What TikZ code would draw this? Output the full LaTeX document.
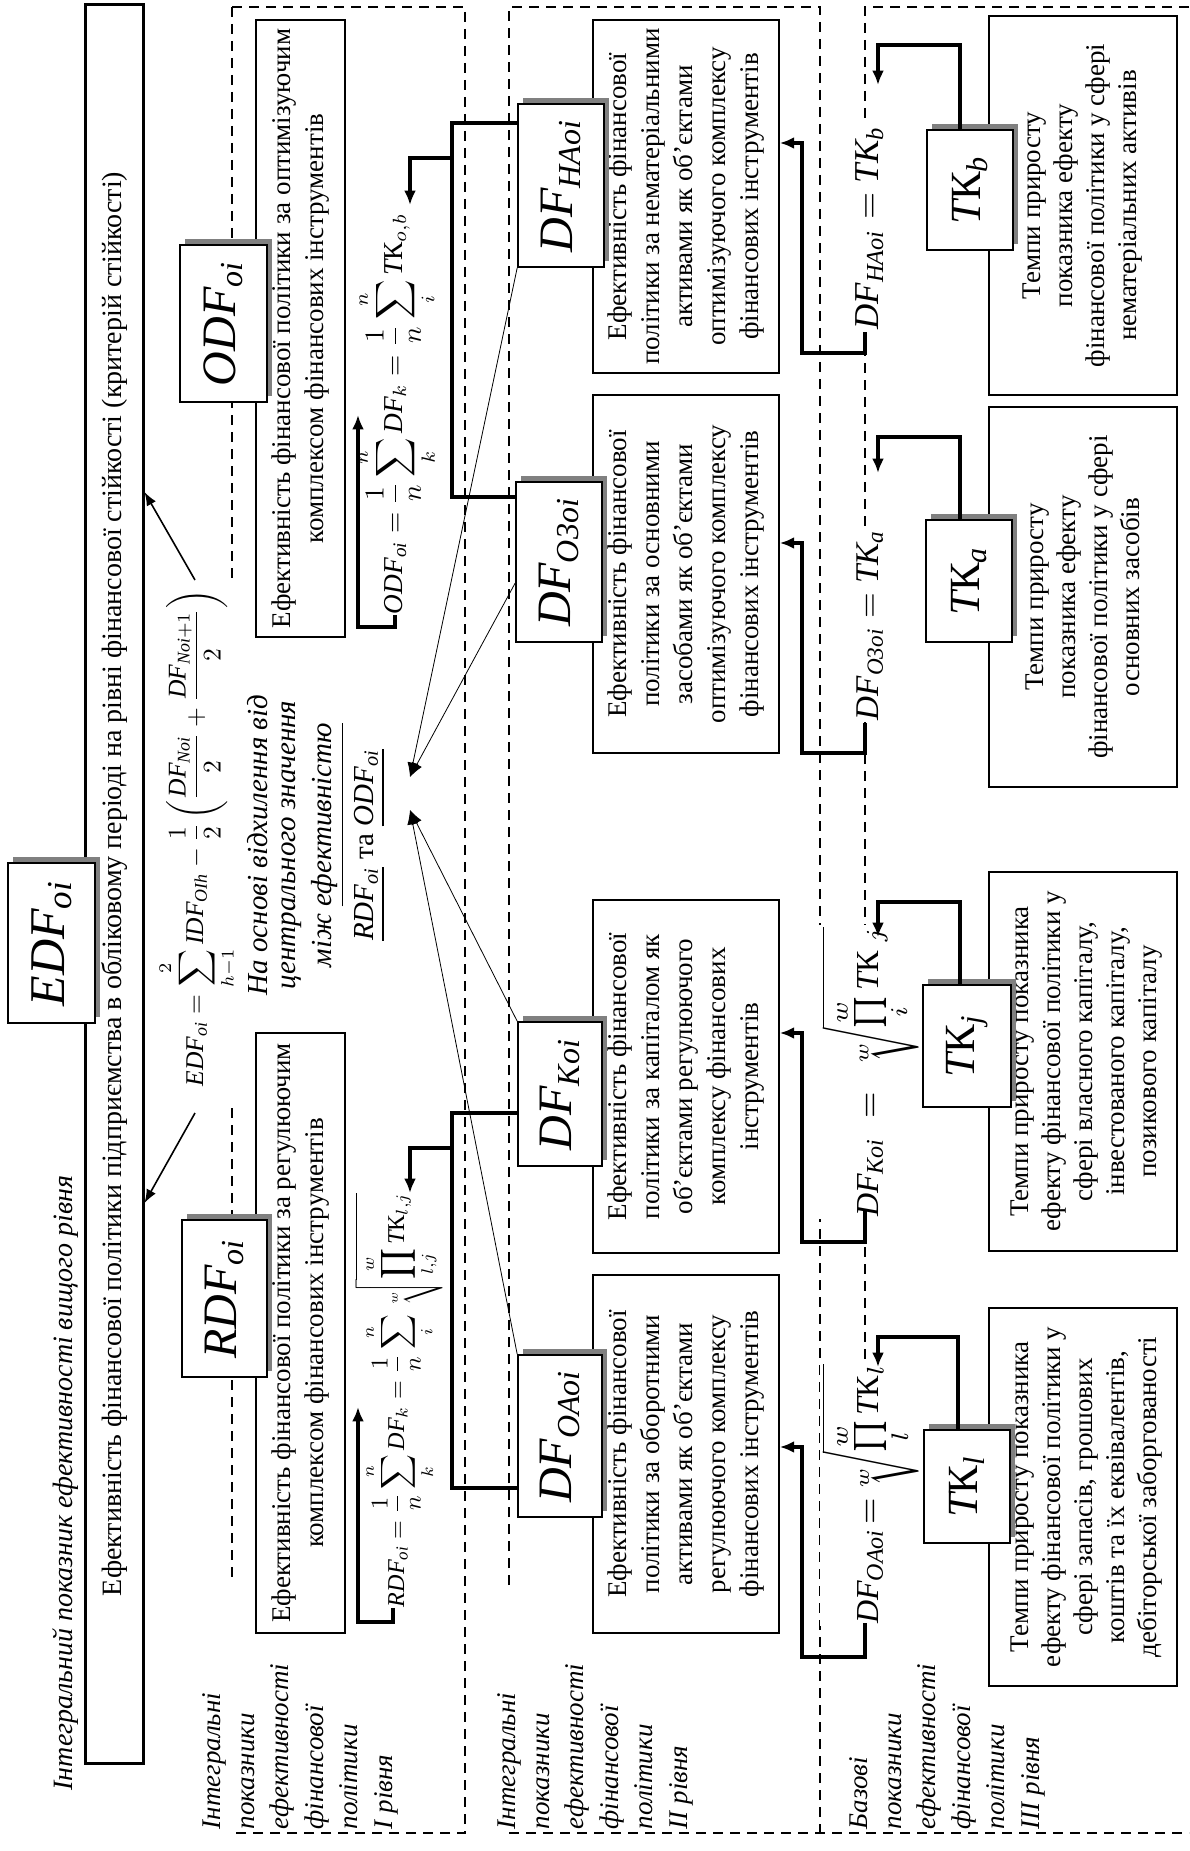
\documentclass[tikz,border=0pt]{standalone}
\usepackage{amsmath}
\usepackage{fontspec}
\setmainfont{Liberation Serif}
\usetikzlibrary{arrows.meta}
\definecolor{shd}{RGB}{128,128,128}
\newcommand\bt{\fontsize{6.75}{8.25}\selectfont}
\newcommand\btt{\fontsize{6.75}{8}\selectfont}
\newcommand\lvlfont{\fontsize{6.75}{8.6}\selectfont\itshape}
\newcommand\LBox[7]{%
  \fill[shd] ({#2+5},{#3-6}) rectangle ({#4+5},{#5-6});
  \node[lbox, minimum width={(#5-#3)*0.25pt}, minimum height={(#4-#2)*0.25pt}, font={\fontsize{#6}{#6}\selectfont}] (#1) at ({(#2+#4)/2},{(#3+#5)/2}) {#7};}
% name, x1, y1, x2, y2, text shift (px, to the right), text
\newcommand\TBox[7]{%
  \node[tbox, minimum width={(#5-#3)*0.25pt}, minimum height={(#4-#2)*0.25pt}] (#1) at ({(#2+#4)/2},{(#3+#5)/2}) {};
  \node[rotate=90, align=center, inner sep=0pt, font=\bt] (#1t) at ({(#2+#4)/2+#6},{(#3+#5)/2}) {#7};}
\newcommand\TBoxT[7]{%
  \node[tbox, minimum width={(#5-#3)*0.25pt}, minimum height={(#4-#2)*0.25pt}] (#1) at ({(#2+#4)/2},{(#3+#5)/2}) {};
  \node[rotate=90, align=center, inner sep=0pt, font=\btt] (#1t) at ({(#2+#4)/2+#6},{(#3+#5)/2}) {#7};}
\begin{document}
\begin{tikzpicture}[x=0.25pt,y=-0.25pt,
  dsh/.style={line width=0.33pt, dash pattern=on 2.5pt off 1.75pt},
  thk/.style={line width=0.8pt},
  thkarr/.style={thk, -{Latex[length=3.6pt,width=3pt]}},
  medarr/.style={line width=0.4pt, -{Latex[length=3.4pt,width=2.6pt]}},
  thnarr/.style={line width=0.2pt, -{Latex[length=3.6pt,width=2.8pt]}},
  tbox/.style={draw, line width=0.4pt, fill=white, rotate=90, inner sep=0pt},
  lbox/.style={draw, line width=0.4pt, fill=white, rotate=90, inner sep=0pt},
  lvl/.style={rotate=90, align=left, inner sep=0pt, font=\lvlfont, anchor=west},
  note/.style={rotate=90, inner sep=0pt, font={\fontsize{7.25}{9}\selectfont\itshape}},
  fml/.style={rotate=90, inner sep=0pt, anchor=base},
  fmlw/.style={fml, fill=white, inner sep=0.5pt},
]
\useasboundingbox (0,0) rectangle (1189,1851);

% dashed level frames
\draw[dsh] (232,7) -- (465,7) -- (465,1833) -- (232,1833);
\draw[dsh] (232,7) -- (232,578);
\draw[dsh] (232,1108) -- (232,1583);
\draw[dsh] (509,1585) -- (509,7) -- (820,7) -- (820,1833);
\draw[dsh] (509,1833) -- (1189,1833);
\draw[dsh] (1189,7) -- (865,7) -- (865,1600);

% level III formulas (drawn early, white background hides the dashed frames)
\node[fmlw] (fha) at (878,228) {\resizebox{50.75pt}{!}{$\mathit{DF}_{\mathit{HAoi}}=\textit{ТК}_{\mathit{b}}$}};
\node[fmlw] (fo3) at (878,625) {\resizebox{47.5pt}{!}{$\mathit{DF}_{\mathit{O3oi}}=\textit{ТК}_{\mathit{a}}$}};
\node[fmlw, font={\fontsize{8}{10}\selectfont}] (fk) at (878,1072) {$\mathit{DF}_{\mathit{Koi}}\;=\;\sqrt[w]{\prod\limits_{i}^{w}\textit{Т}\text{К}_{\;j}}$};
\node[fmlw, font={\fontsize{8}{10}\selectfont}] (foa) at (878,1494) {$\mathit{DF}_{\mathit{OAoi}}\mkern-3mu=\mkern-5mu\sqrt[w]{\prod\limits_{l}^{w}\textit{Т}\text{К}_{l}}$};

% title and main box
\node[rotate=90, anchor=base, inner sep=0pt, font={\fontsize{7}{8}\selectfont\itshape}] (title) at (72,1483) {Інтегральний показник ефективності вищого рівня};
\node[draw, line width=0.75pt, rotate=90, minimum width=439.5pt, minimum height=14.5pt, inner sep=0pt, font={\fontsize{7}{8}\selectfont}] (mainbox) at (114,884) {Ефективність фінансової політики підприємства в обліковому періоді на рівні фінансової стійкості (критерій стійкості)};
\LBox{edf}{8}{863}{95}{1023}{12.5}{$\mathit{EDF}_{\mathit{oi}}$}

% text boxes
\TBox{odft}{256}{20}{345}{637}{0}{Ефективність фінансової політики за оптимізуючим\\комплексом фінансових інструментів}
\TBox{rdft}{256}{1033}{345}{1633}{0}{Ефективність фінансової політики за регулюючим\\комплексом фінансових інструментів}
\TBox{hat}{593}{20}{779}{373}{0}{Ефективність фінансової\\політики за нематеріальними\\активами як об’єктами\\оптимізуючого комплексу\\фінансових інструментів}
\TBox{o3t}{593}{395}{779}{753}{0}{Ефективність фінансової\\політики за основними\\засобами як об’єктами\\оптимізуючого комплексу\\фінансових інструментів}
\TBox{kt}{593}{900}{779}{1253}{0}{Ефективність фінансової\\політики за капіталом як\\об’єктами регулюючого\\комплексу фінансових\\інструментів}
\TBox{oat}{593}{1275}{779}{1633}{0}{Ефективність фінансової\\політики за оборотними\\активами як об’єктами\\регулюючого комплексу\\фінансових інструментів}
\TBoxT{tbt}{989}{16}{1177}{395}{0}{Темпи приросту\\показника ефекту\\фінансової політики у сфері\\нематеріальних активів}
\TBoxT{tat}{989}{407}{1177}{787}{0}{Темпи приросту\\показника ефекту\\фінансової політики у сфері\\основних засобів}
\TBoxT{tjt}{989}{872}{1177}{1251}{4}{Темпи приросту показника\\ефекту фінансової політики у\\сфері власного капіталу,\\інвестованого капіталу,\\позикового капіталу}
\TBoxT{tlt}{989}{1308}{1177}{1686}{4}{Темпи приросту показника\\ефекту фінансової політики у\\сфері запасів, грошових\\коштів та їх еквівалентів,\\дебіторської заборгованості}

% label boxes
\LBox{odf}{180}{245}{267}{402}{12}{$\mathit{ODF}_{\mathit{oi}}$}
\LBox{rdf}{182}{1220}{267}{1377}{12}{$\mathit{RDF}_{\mathit{oi}}$}
\LBox{dfha}{518}{104}{604}{267}{12}{$\mathit{DF}_{\mathit{HAoi}}$}
\LBox{dfo3}{516}{482}{602}{642}{12}{$\mathit{DF}_{\mathit{O3oi}}$}
\LBox{dfk}{518}{1022}{602}{1166}{12}{$\mathit{DF}_{\mathit{Koi}}$}
\LBox{dfoa}{518}{1355}{602}{1517}{12}{$\mathit{DF}_{\mathit{OAoi}}$}
\LBox{tkb}{927}{130}{1013}{250}{10.75}{$\textit{Т}\text{К}_{\mathit{b}}$}
\LBox{tka}{926}{520}{1012}{642}{10.75}{$\textit{Т}\text{К}_{\mathit{a}}$}
\LBox{tkj}{923}{985}{1011}{1107}{10.75}{$\textit{Т}\text{К}_{\mathit{j}}$}
\LBox{tkl}{924}{1430}{1010}{1543}{10.75}{$\textit{Т}\text{К}_{\mathit{l}}$}

% level I formulas
\node[fml] (fedf) at (203,838) {\resizebox{124pt}{!}{$\displaystyle \mathit{EDF}_{\mathit{oi}}=\sum_{h-1}^{2}\mathit{IDF}_{\mathit{OIh}}-\frac{1}{2}\left(\frac{\mathit{DF}_{\mathit{Noi}}}{2}+\frac{\mathit{DF}_{\mathit{Noi}+1}}{2}\right)$}};
\node[fml] (fodf) at (402,414) {\resizebox{100pt}{!}{$\displaystyle \mathit{ODF}_{\mathit{oi}}=\frac{1}{n}\sum_{k}^{n}\mathit{DF}_{k}=\frac{1}{n}\sum_{i}^{n}\textit{Т}\text{К}_{o,b}$}};
\node[fml] (frdf) at (404,1400) {\resizebox{103.5pt}{!}{$\displaystyle \mathit{RDF}_{\mathit{oi}}=\frac{1}{n}\sum_{k}^{n}\mathit{DF}_{k}=\frac{1}{n}\sum_{i}^{n}\sqrt[w]{\prod_{l,j}^{w}\textit{Т}\text{К}_{l,j}}$}};

% note
\node[note] (n1) at (258,845) {На основі відхилення від};
\node[note] (n2) at (292,845) {центрального значення};
\node[note] (n3) at (328,845) {між \underline{ефективністю}};
\node[note] (n4) at (370,845) {\underline{$\mathit{RDF}_{\mathit{oi}}$} \textup{та} \underline{$\mathit{ODF}_{\mathit{oi}}$}};

% level labels
\node[lvl] (lab1) at (300,1830) {Інтегральні\\показники\\ефективності\\фінансової\\політики\\I рівня};
\node[lvl] (lab2) at (595,1830) {Інтегральні\\показники\\ефективності\\фінансової\\політики\\II рівня};
\node[lvl] (lab3) at (947,1830) {Базові\\показники\\ефективності\\фінансової\\політики\\III рівня};

% arrows to main box
\draw[medarr] (195,580) -- (mainbox.south |- 0,492);
\draw[medarr] (195,1113) -- (mainbox.south |- 0,1203);

% level I brackets
\draw[thkarr] (fodf.west -| 395,0) -- (395,627) -- (358,627) -- (358,415);
\draw[thkarr] (frdf.west -| 393,0) -- (393,1622) -- (358,1622) -- (358,1407);

% level II -> I
\draw[thk] (dfha.north |- 0,123) -- (452,123) -- (452,497) -- (dfo3.north |- 0,497);
\draw[thkarr] (452,158) -- (410,158) -- (410,205);
\draw[thk] (dfk.north |- 0,1113) -- (452,1113) -- (452,1488) -- (dfoa.north |- 0,1488);
\draw[thkarr] (452,1148) -- (410,1148) -- (410,1193);

% level III -> II
\draw[thkarr] (fha.west -| 865,0) -- (865,353) -- (802,353) -- (802,143) -- (hat.south |- 0,143);
\draw[thkarr] (fo3.west -| 865,0) -- (865,753) -- (802,753) -- (802,543) -- (o3t.south |- 0,543);
\draw[thkarr] (865,1210) -- (865,1242) -- (802,1242) -- (802,1033) -- (kt.south |- 0,1033);
\draw[thkarr] (865,1623) -- (865,1657) -- (802,1657) -- (802,1447) -- (oat.south |- 0,1447);

% TK boxes -> formulas
\draw[thkarr] (tkb.east -| 960,0) -- (960,45) -- (878,45) -- (878,85);
\draw[thkarr] (tka.east -| 960,0) -- (960,437) -- (878,437) -- (878,473);
\draw[thkarr] (tkj.east -| 960,0) -- (960,902) -- (878,902) -- (878,937);
\draw[thkarr] (tkl.east -| 958,0) -- (958,1337) -- (878,1337) -- (878,1367);

% thin arrows to note
\coordinate (cv1) at (410,777);
\coordinate (cv2) at (410,810);
\draw[thnarr] (dfha.north west) -- (cv1);
\draw[thnarr] (dfo3.north |- 0,583) -- (cv1);
\draw[thnarr] (dfk.north east) -- (cv2);
\draw[thnarr] (dfoa.north east) -- (cv2);
\end{tikzpicture}
\end{document}
